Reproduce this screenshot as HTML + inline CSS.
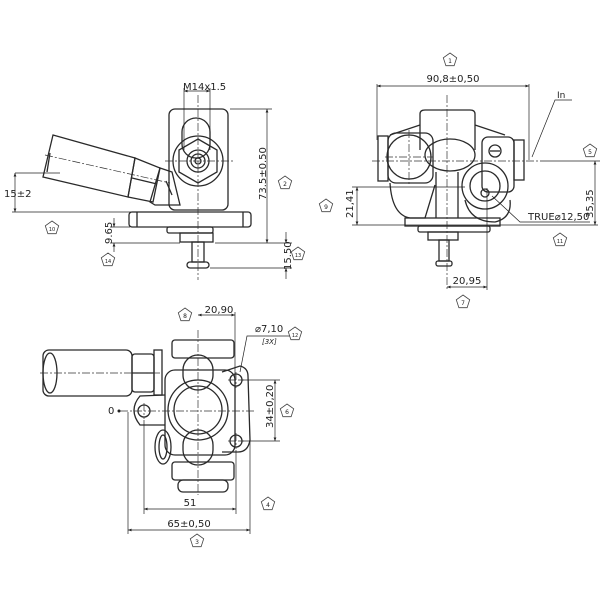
<!DOCTYPE html>
<html><head><style>html,body{margin:0;padding:0;background:#fff}svg{display:block}text{font-family:"DejaVu Sans","Liberation Sans",sans-serif;fill:#222}</style></head>
<body>
<svg width="600" height="600" viewBox="0 0 600 600" xmlns="http://www.w3.org/2000/svg">
<defs>
<g id="pent"><polygon points="0,-7 6.7,-2.2 4.1,5.7 -4.1,5.7 -6.7,-2.2" fill="#fff" stroke="#444" stroke-width="0.8"/></g>
<marker id="ar" markerWidth="6" markerHeight="6" refX="5" refY="3" orient="auto-start-reverse"><path d="M0,1 L5,3 L0,5z" fill="#222"/></marker>
</defs>
<g fill="none" stroke="#2a2a2a" stroke-width="1.3">
<rect x="169" y="109" width="59" height="101" rx="6"/>
<rect x="182" y="118" width="28" height="40" rx="14"/>
<rect x="129" y="212" width="122" height="15" rx="3"/>
<line x1="137" y1="212" x2="137" y2="227"/><line x1="243" y1="212" x2="243" y2="227"/>
<rect x="167" y="227" width="46" height="6" rx="2"/>
<rect x="180" y="233" width="33" height="9"/>
<rect x="192" y="242" width="12" height="20"/>
<rect x="187" y="262" width="22" height="6" rx="3"/>
<circle cx="198" cy="161" r="25"/>
<polygon points="198,139 217,150 217,172 198,183 179,172 179,150"/>
<circle cx="198" cy="161" r="11"/><circle cx="198" cy="161" r="7"/><circle cx="198" cy="161" r="3"/>
<polygon points="53,135 135,158 128,197 43,177"/>
<line x1="50" y1="153" x2="47" y2="172"/>
<polygon points="135,158 160,168 153,202 128,197"/>
<line x1="132" y1="178" x2="157" y2="184"/>
<polygon points="160,168 172,172 180,205 155,205 150,202"/>
<line x1="166" y1="181" x2="172" y2="195"/>
</g>
<g fill="none" stroke="#333" stroke-width="0.7" stroke-dasharray="8,2,2,2">
<line x1="45" y1="155" x2="170" y2="183"/>
<line x1="198" y1="95" x2="198" y2="280"/>
<line x1="165" y1="161" x2="235" y2="161"/>
</g>
<g fill="none" stroke="#222" stroke-width="0.7">
<line x1="184" y1="88" x2="184" y2="150"/><line x1="210" y1="88" x2="210" y2="150"/>
<line x1="184" y1="91" x2="210" y2="91" marker-start="url(#ar)" marker-end="url(#ar)"/>
<line x1="230" y1="109" x2="272" y2="109"/><line x1="215" y1="243" x2="292" y2="243"/>
<line x1="267" y1="109" x2="267" y2="243" marker-start="url(#ar)" marker-end="url(#ar)"/>
<line x1="210" y1="268" x2="292" y2="268"/>
<line x1="286" y1="232" x2="286" y2="243" marker-end="url(#ar)"/>
<line x1="286" y1="268" x2="286" y2="279" marker-start="url(#ar)"/>
<line x1="12" y1="212" x2="170" y2="212"/>
<line x1="15" y1="173" x2="15" y2="212" marker-start="url(#ar)" marker-end="url(#ar)"/>
<line x1="15" y1="173" x2="60" y2="173"/>
<line x1="110" y1="227" x2="130" y2="227"/><line x1="110" y1="243" x2="180" y2="243"/>
<line x1="114" y1="218" x2="114" y2="227" marker-end="url(#ar)"/>
<line x1="114" y1="243" x2="114" y2="252" marker-start="url(#ar)"/>
</g>
<text x="183" y="90" font-size="10">M14x1.5</text>
<text x="0" y="0" font-size="10" transform="translate(266,200) rotate(-90)">73.5±0.50</text>
<text x="0" y="0" font-size="10" transform="translate(291,270) rotate(-90)">15.50</text>
<text x="0" y="0" font-size="10" transform="translate(112,244) rotate(-90)">9.65</text>
<text x="4" y="197" font-size="10">15±2</text>
<use href="#pent" x="285" y="183"/><text x="285" y="186" font-size="6" text-anchor="middle">2</text>
<use href="#pent" x="52" y="228"/><text x="52" y="231" font-size="5" text-anchor="middle">10</text>
<use href="#pent" x="108" y="260"/><text x="108" y="263" font-size="5" text-anchor="middle">14</text>
<use href="#pent" x="298" y="254"/><text x="298" y="257" font-size="5" text-anchor="middle">13</text>

<g fill="none" stroke="#2a2a2a" stroke-width="1.3">
<path d="M420,150 L420,114 Q420,110 425,110 L470,110 Q475,110 475,114 L475,150"/>
<path d="M390,135 L420,125 M475,125 L505,135"/>
<rect x="378" y="136" width="10" height="45"/>
<rect x="388" y="133" width="45" height="50" rx="8"/>
<circle cx="409" cy="157" r="22"/>
<ellipse cx="450" cy="155" rx="25" ry="16"/>
<rect x="482" y="137" width="32" height="55" rx="6"/>
<rect x="514" y="140" width="10" height="40"/>
<circle cx="495" cy="151" r="6"/><line x1="490" y1="151" x2="500" y2="151"/>
<circle cx="485" cy="186" r="23"/><circle cx="485" cy="186" r="15"/><circle cx="485" cy="193" r="4"/>
<path d="M390,183 Q392,215 410,218 L425,218 L435,185"/>
<path d="M436,172 L436,218 M458,172 L458,218"/>
<path d="M465,200 Q470,222 495,222 Q512,218 510,200"/>
<rect x="405" y="218" width="95" height="8"/>
<rect x="418" y="226" width="72" height="6" rx="2"/>
<rect x="428" y="232" width="30" height="8"/>
<rect x="439" y="240" width="10" height="21"/>
<rect x="436" y="261" width="16" height="5" rx="2"/>
</g>
<g fill="none" stroke="#333" stroke-width="0.7" stroke-dasharray="8,2,2,2">
<line x1="372" y1="161" x2="540" y2="161"/><line x1="447" y1="95" x2="447" y2="290"/>
<line x1="409" y1="130" x2="409" y2="185"/><line x1="385" y1="157" x2="433" y2="157"/>
</g>
<g fill="none" stroke="#222" stroke-width="0.7">
<line x1="377" y1="84" x2="377" y2="140"/><line x1="529" y1="84" x2="529" y2="160"/>
<line x1="377" y1="86" x2="529" y2="86" marker-start="url(#ar)" marker-end="url(#ar)"/>
<line x1="540" y1="161" x2="600" y2="161"/>
<line x1="595" y1="161" x2="595" y2="225" marker-start="url(#ar)" marker-end="url(#ar)"/>
<line x1="352" y1="225" x2="598" y2="225"/><line x1="352" y1="187" x2="465" y2="187"/>
<line x1="357" y1="187" x2="357" y2="225" marker-start="url(#ar)" marker-end="url(#ar)"/>
<line x1="487" y1="188" x2="487" y2="290"/>
<line x1="447" y1="287" x2="487" y2="287" marker-start="url(#ar)" marker-end="url(#ar)"/>
<polyline points="492,196 520,222 590,222"/>
<polyline points="532,157 555,100 572,100"/>
</g>
<text x="453" y="82" font-size="10" text-anchor="middle">90,8±0,50</text>
<text x="557" y="98" font-size="9">In</text>
<text x="528" y="220" font-size="10">TRUE⌀12,50</text>
<text x="0" y="0" font-size="10" transform="translate(593,218) rotate(-90)">35,35</text>
<text x="0" y="0" font-size="10" transform="translate(353,218) rotate(-90)">21,41</text>
<text x="467" y="284" font-size="10" text-anchor="middle">20,95</text>
<use href="#pent" x="450" y="60"/><text x="450" y="63" font-size="6" text-anchor="middle">1</text>
<use href="#pent" x="590" y="151"/><text x="590" y="154" font-size="6" text-anchor="middle">5</text>
<use href="#pent" x="326" y="206"/><text x="326" y="209" font-size="6" text-anchor="middle">9</text>
<use href="#pent" x="560" y="240"/><text x="560" y="243" font-size="5" text-anchor="middle">11</text>
<use href="#pent" x="463" y="302"/><text x="463" y="305" font-size="6" text-anchor="middle">7</text>

<g fill="none" stroke="#2a2a2a" stroke-width="1.3">
<rect x="43" y="350" width="89" height="46" rx="6"/>
<ellipse cx="50" cy="373" rx="7" ry="20"/>
<rect x="132" y="354" width="22" height="38" rx="3"/>
<line x1="132" y1="373" x2="154" y2="373"/>
<rect x="154" y="350" width="8" height="45"/>
<rect x="172" y="340" width="62" height="18" rx="3"/>
<rect x="172" y="462" width="62" height="18" rx="3"/>
<rect x="178" y="480" width="50" height="12" rx="5"/>
<rect x="183" y="355" width="30" height="35" rx="15"/>
<rect x="183" y="430" width="30" height="35" rx="15"/>
<rect x="165" y="370" width="70" height="85" rx="10"/>
<circle cx="198" cy="410" r="30"/><circle cx="198" cy="410" r="24"/>
<path d="M222,372 L240,366 Q248,368 248,376 L250,440 Q248,452 238,452 L222,452"/>
<circle cx="236" cy="380" r="6"/><circle cx="236" cy="441" r="6"/>
<path d="M165,395 L140,396 Q128,410 140,425 L165,425"/>
<circle cx="144" cy="411" r="6"/>
<ellipse cx="163" cy="447" rx="8" ry="17"/><ellipse cx="163" cy="447" rx="4" ry="12"/>
</g>
<g fill="none" stroke="#333" stroke-width="0.7" stroke-dasharray="8,2,2,2">
<line x1="40" y1="373" x2="160" y2="373"/><line x1="120" y1="411" x2="255" y2="411"/>
<line x1="198" y1="330" x2="198" y2="495"/>
<line x1="236" y1="372" x2="236" y2="388"/><line x1="228" y1="380" x2="244" y2="380"/>
<line x1="236" y1="433" x2="236" y2="449"/><line x1="228" y1="441" x2="244" y2="441"/>
<line x1="144" y1="403" x2="144" y2="419"/>
</g>
<g fill="none" stroke="#222" stroke-width="0.7">
<line x1="235" y1="312" x2="235" y2="380"/>
<line x1="198" y1="315" x2="235" y2="315" marker-start="url(#ar)" marker-end="url(#ar)"/>
<polyline points="240,372 247,336 290,336"/>
<line x1="240" y1="380" x2="280" y2="380"/><line x1="240" y1="441" x2="280" y2="441"/>
<line x1="275" y1="380" x2="275" y2="441" marker-start="url(#ar)" marker-end="url(#ar)"/>
<line x1="144" y1="420" x2="144" y2="514"/><line x1="236" y1="450" x2="236" y2="514"/>
<line x1="144" y1="509" x2="236" y2="509" marker-start="url(#ar)" marker-end="url(#ar)"/>
<line x1="128" y1="412" x2="128" y2="534"/><line x1="250" y1="440" x2="250" y2="534"/>
<line x1="128" y1="530" x2="250" y2="530" marker-start="url(#ar)" marker-end="url(#ar)"/>
</g>
<circle cx="119" cy="411" r="1.5" fill="#222"/>
<text x="108" y="414" font-size="10">0</text>
<text x="219" y="313" font-size="10" text-anchor="middle">20,90</text>
<text x="255" y="332" font-size="10">⌀7,10</text>
<text x="262" y="344" font-size="7" font-style="italic">[3X]</text>
<text x="0" y="0" font-size="10" transform="translate(273,428) rotate(-90)">34±0,20</text>
<text x="190" y="506" font-size="10" text-anchor="middle">51</text>
<text x="189" y="527" font-size="10" text-anchor="middle">65±0,50</text>
<use href="#pent" x="185" y="315"/><text x="185" y="318" font-size="6" text-anchor="middle">8</text>
<use href="#pent" x="295" y="334"/><text x="295" y="337" font-size="5" text-anchor="middle">12</text>
<use href="#pent" x="287" y="411"/><text x="287" y="414" font-size="6" text-anchor="middle">6</text>
<use href="#pent" x="268" y="504"/><text x="268" y="507" font-size="6" text-anchor="middle">4</text>
<use href="#pent" x="197" y="541"/><text x="197" y="544" font-size="6" text-anchor="middle">3</text>
</svg>
</body></html>
